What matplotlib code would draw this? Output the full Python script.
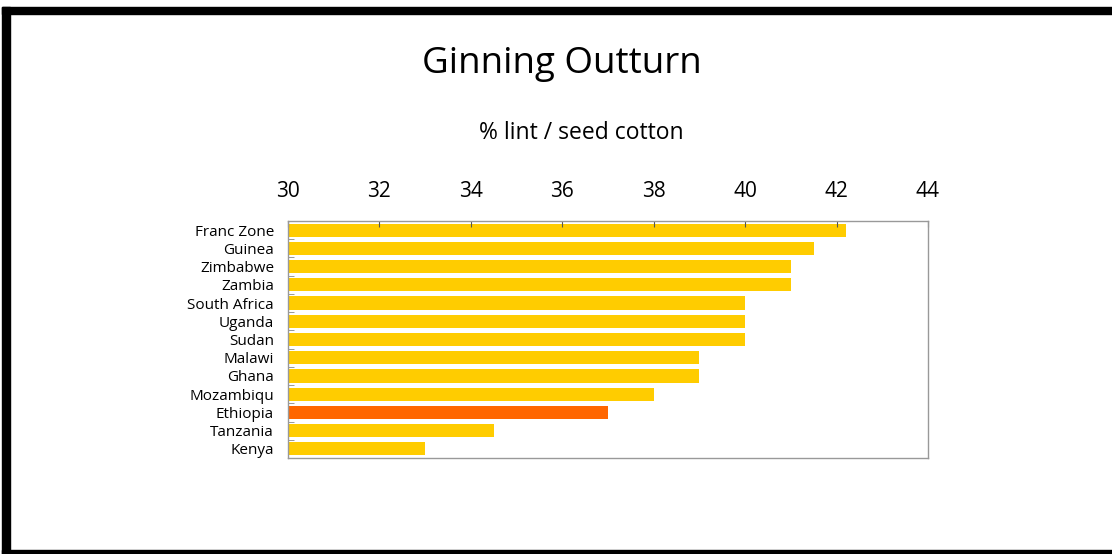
import matplotlib.pyplot as plt
from matplotlib.patches import Rectangle

# Ginning outturn by country (% lint / seed cotton)
countries = ["Franc Zone", "Guinea", "Zimbabwe", "Zambia", "South Africa", "Uganda",
             "Sudan", "Malawi", "Ghana", "Mozambiqu", "Ethiopia", "Tanzania", "Kenya"]
outturn = [42.2, 41.5, 41.0, 41.0, 40.0, 40.0, 40.0, 39.0, 39.0, 38.0, 37.0, 34.5, 33.0]
highlight = "Ethiopia"
x_ticks = [30, 32, 34, 36, 38, 40, 42, 44]

plt.rcParams['font.family'] = ['Open Sans', 'DejaVu Sans']

fig = plt.figure(figsize=(11.12, 5.54), dpi=100)

# black frame around the slide (top, left, bottom)
fig.patches.append(Rectangle((0.002, 0.974), 0.998, 0.013, transform=fig.transFigure,
                             color='black', zorder=10))
fig.patches.append(Rectangle((0.002, 0.0), 0.007, 0.987, transform=fig.transFigure,
                             color='black', zorder=10))
fig.patches.append(Rectangle((0.002, 0.0), 0.998, 0.007, transform=fig.transFigure,
                             color='black', zorder=10))

ax = fig.add_axes([288 / 1112, 1 - 458 / 554, 640 / 1112, 237 / 554])

colors = ['#FF6600' if c == highlight else '#FFCC00' for c in countries]
ypos = range(len(countries))
ax.barh(ypos, [v - 30 for v in outturn], left=30, height=0.72, color=colors)

ax.set_xlim(30, 44)
ax.set_ylim(len(countries) - 0.5, -0.5)
ax.xaxis.tick_top()
ax.set_xticks(x_ticks)
ax.set_xticklabels([str(t) for t in x_ticks], fontsize=15)
ax.tick_params(axis='x', direction='in', length=4, color='#555555', pad=14)

ax.set_yticks(list(ypos))
ax.set_yticklabels(countries, fontsize=11)
ax.tick_params(axis='y', length=0, pad=10)
# small ticks between categories
ax.set_yticks([i + 0.5 for i in range(len(countries) - 1)], minor=True)
ax.tick_params(axis='y', which='minor', direction='in', length=4, color='#888888')

for s in ax.spines.values():
    s.set_color('#999999')
    s.set_linewidth(1)

fig.text(0.505, 0.885, "Ginning Outturn", ha='center', va='center', fontsize=26.5)
fig.text(0.523, 0.76, "% lint / seed cotton", ha='center', va='center', fontsize=16.5)

fig.savefig("out.png", dpi=100)
